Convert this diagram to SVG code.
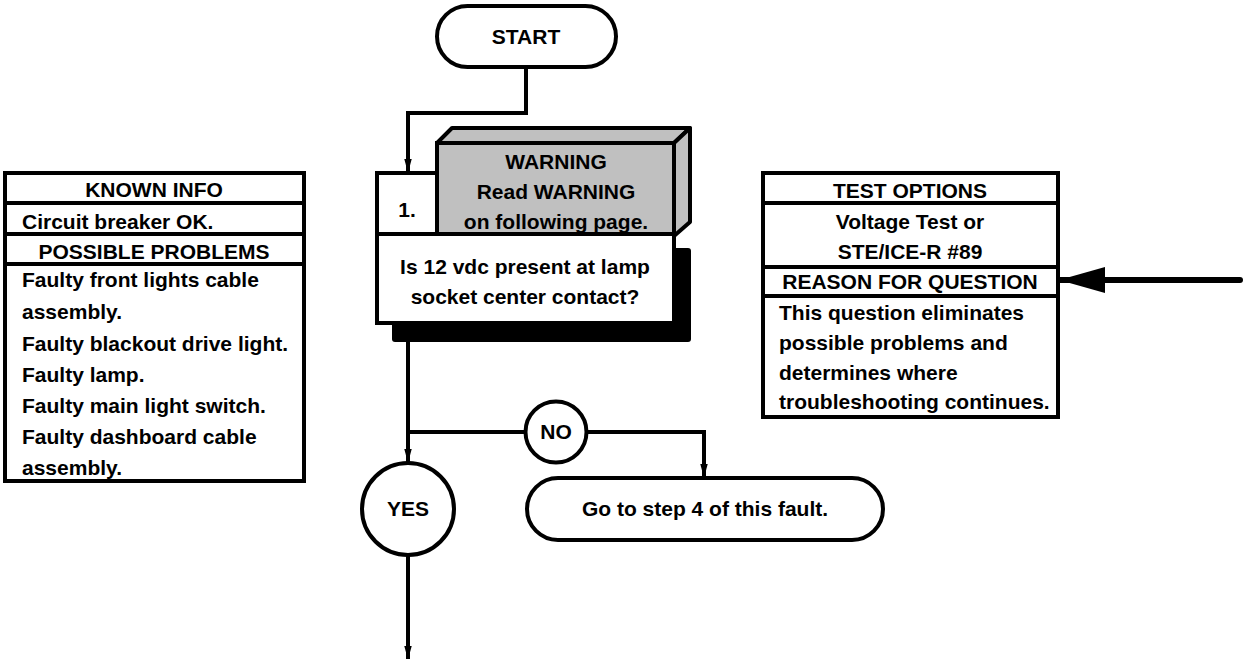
<svg xmlns="http://www.w3.org/2000/svg" width="1244" height="659" viewBox="0 0 1244 659">
<defs>
<style>
text{font-family:"Liberation Sans",Arial,sans-serif;font-weight:bold;font-size:21px;fill:#000}
.c{text-anchor:middle}
.box{fill:#fff;stroke:#000;stroke-width:4}
.ln{fill:none;stroke:#000;stroke-width:4}
</style>
<marker id="ah" markerUnits="userSpaceOnUse" markerWidth="14" markerHeight="22" refX="21" refY="6" orient="auto" viewBox="0 0 22 12">
<path d="M0,0 L22,6 L0,12 Z" fill="#000"/>
</marker>
<marker id="bh" markerUnits="userSpaceOnUse" markerWidth="46" markerHeight="26" refX="45" refY="13" orient="auto" viewBox="0 0 46 26">
<path d="M0,0 L46,13 L0,26 Z" fill="#000"/>
</marker>
</defs>
<rect width="1244" height="659" fill="#fff"/>

<g id="connectors">
<path class="ln" d="M526,67 V113 H408 V172" marker-end="url(#ah)"/>
<path class="ln" d="M408,342 V462" marker-end="url(#ah)"/>
<path class="ln" d="M408,432 H525"/>
<path class="ln" d="M587,432 H704 V477" marker-end="url(#ah)"/>
<path class="ln" d="M408,555 V659" marker-end="url(#ah)"/>
<path d="M1240,280 H1060" fill="none" stroke="#000" stroke-width="6" stroke-linecap="round" marker-end="url(#bh)"/>
</g>

<g id="start">
<rect class="box" x="437" y="6" width="179" height="61" rx="30.5"/>
<text class="c" x="526" y="44">START</text>
</g>

<g id="step1">
<rect x="392" y="248" width="299" height="94" rx="3" fill="#000"/>
<polygon points="437,143 452,128 690,128 674,143" fill="#c0c0c0" stroke="#000" stroke-width="4" stroke-linejoin="round"/>
<polygon points="674,143 690,128 690,222 674,236" fill="#c0c0c0" stroke="#000" stroke-width="4" stroke-linejoin="round"/>
<rect x="437" y="143" width="237" height="91" fill="#c0c0c0" stroke="#000" stroke-width="4"/>
<rect class="box" x="377" y="173" width="60" height="61"/>
<rect class="box" x="377" y="234" width="297" height="89"/>
<text class="c" x="556" y="169">WARNING</text>
<text class="c" x="556" y="199">Read WARNING</text>
<text class="c" x="556" y="229">on following page.</text>
<text class="c" x="407" y="217">1.</text>
<text class="c" x="525" y="274">Is 12 vdc present at lamp</text>
<text class="c" x="525" y="304">socket center contact?</text>
</g>

<g id="known-info">
<rect class="box" x="5" y="173" width="299" height="308"/>
<line class="ln" x1="5" y1="203" x2="304" y2="203"/>
<line class="ln" x1="5" y1="234" x2="304" y2="234"/>
<line class="ln" x1="5" y1="264" x2="304" y2="264"/>
<text class="c" x="154" y="197">KNOWN INFO</text>
<text x="22" y="229">Circuit breaker OK.</text>
<text class="c" x="154" y="259">POSSIBLE PROBLEMS</text>
<text x="22" y="287">Faulty front lights cable</text>
<text x="22" y="319">assembly.</text>
<text x="22" y="351">Faulty blackout drive light.</text>
<text x="22" y="382">Faulty lamp.</text>
<text x="22" y="413">Faulty main light switch.</text>
<text x="22" y="444">Faulty dashboard cable</text>
<text x="22" y="475">assembly.</text>
</g>

<g id="test-options">
<rect class="box" x="763" y="173" width="295" height="244"/>
<line class="ln" x1="763" y1="203" x2="1058" y2="203"/>
<line class="ln" x1="763" y1="267" x2="1058" y2="267"/>
<line class="ln" x1="763" y1="296" x2="1058" y2="296"/>
<text class="c" x="910" y="198">TEST OPTIONS</text>
<text class="c" x="910" y="229">Voltage Test or</text>
<text class="c" x="910" y="259">STE/ICE-R #89</text>
<text class="c" x="910" y="289">REASON FOR QUESTION</text>
<text x="779" y="320">This question eliminates</text>
<text x="779" y="350">possible problems and</text>
<text x="779" y="380">determines where</text>
<text x="779" y="409">troubleshooting continues.</text>
</g>

<g id="no">
<circle class="box" cx="556" cy="432" r="30.5"/>
<text class="c" x="556" y="439">NO</text>
</g>

<g id="goto4">
<rect class="box" x="527" y="478" width="356" height="62" rx="31"/>
<text class="c" x="705" y="516">Go to step 4 of this fault.</text>
</g>

<g id="yes">
<circle class="box" cx="408" cy="509" r="46"/>
<text class="c" x="408" y="516">YES</text>
</g>
</svg>
